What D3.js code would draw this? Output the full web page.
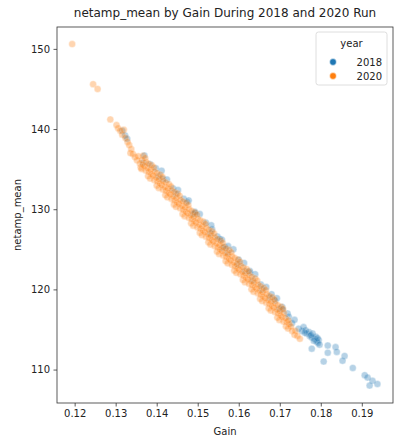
<!DOCTYPE html>
<html>
<head>
<meta charset="utf-8">
<script src="https://cdn.jsdelivr.net/npm/d3@7"></script>
<style>
  html, body { margin: 0; padding: 0; background: #fff; }
  svg { display: block; font-family: "DejaVu Sans", sans-serif; }
</style>
</head>
<body>
<svg id="chart" width="402" height="439"></svg>
<script>
// Run years shown in the legend
const years = ["2018", "2020"];

// [Gain, netamp_mean] for the 2018 run
const points2018 = [
  [0.1316,139.8],[0.1323,139.2],[0.1328,138.8],[0.1367,135.8],[0.1384,135.6],[0.1370,136.7],
  [0.1398,135.1],[0.1415,133.8],[0.1412,134.8],[0.1425,133.7],[0.1440,132.6],[0.1452,132.4],
  [0.1466,131.3],[0.1474,130.9],[0.1478,131.1],[0.1493,129.5],[0.1493,129.7],[0.1505,129.4],
  [0.1520,128.3],[0.1535,127.5],[0.1533,128.0],[0.1548,126.6],[0.1559,126.2],[0.1554,126.3],
  [0.1566,125.3],[0.1561,125.2],[0.1574,125.4],[0.1587,125.0],[0.1598,123.1],[0.1600,123.7],
  [0.1613,123.3],[0.1627,122.1],[0.1627,122.3],[0.1634,121.1],[0.1640,121.9],[0.1654,120.6],
  [0.1667,120.3],[0.1676,119.0],[0.1680,119.4],[0.1688,118.6],[0.1693,118.9],[0.1706,117.8],
  [0.1707,117.5],[0.1719,117.0],[0.1722,116.6],[0.1736,116.2],[0.1730,115.8],[0.1746,115.1],
  [0.1754,114.8],[0.1758,115.3],[0.1763,114.9],[0.1766,114.5],[0.1771,114.7],[0.1773,114.2],
  [0.1778,114.0],[0.1780,114.5],[0.1785,113.8],[0.1788,114.1],[0.1790,113.5],[0.1795,113.7],
  [0.1793,113.3],[0.1797,113.1],[0.1761,114.6],[0.1776,114.3],[0.1783,113.6],[0.1792,113.9],
  [0.1778,112.6],[0.1807,111.0],[0.1817,113.0],[0.1817,112.1],
  [0.1836,112.8],[0.1839,112.2],[0.1858,111.7],[0.1853,111.1],[0.1878,110.2],[0.1907,109.3],
  [0.1914,109.0],[0.1926,108.6],[0.1938,108.2],[0.1919,108.0],
  [0.1405,134.1],[0.1447,131.9],[0.1489,129.4],[0.1531,127.0],[0.1573,124.6],[0.1615,122.3],
  [0.1657,120.0],[0.1699,117.6]
];

// [Gain, netamp_mean] for the 2020 run
const points2020 = [
  [0.1194,150.6],[0.1245,145.6],[0.1256,145.0],[0.1287,141.2],[0.1302,140.5],[0.1306,140.1],
  [0.1311,139.8],[0.1316,139.3],[0.1320,139.9],[0.1324,138.9],[0.1329,138.4],[0.1333,138.0],
  [0.1338,137.5],[0.1336,137.0],[0.1342,136.9],[0.1347,136.5],[0.1352,136.1],[0.1355,136.6],
  [0.1359,135.7],[0.1361,135.2],
  [0.1363,135.01],[0.1366,135.56],[0.1364,136.11],[0.1367,136.66],
  [0.1373,134.82],[0.1370,135.37],[0.1374,135.87],[0.1372,136.37],
  [0.1379,134.13],[0.1381,134.63],[0.1378,135.13],[0.1380,135.68],
  [0.1384,133.83],[0.1387,134.38],[0.1385,134.93],[0.1388,135.48],
  [0.1394,133.64],[0.1391,134.19],[0.1395,134.69],[0.1393,135.19],
  [0.1400,132.95],[0.1402,133.45],[0.1399,133.95],[0.1401,134.50],
  [0.1405,132.66],[0.1408,133.21],[0.1406,133.76],[0.1409,134.31],
  [0.1415,132.46],[0.1412,133.01],[0.1416,133.51],[0.1414,134.01],
  [0.1421,131.77],[0.1423,132.27],[0.1420,132.77],[0.1422,133.32],
  [0.1426,131.48],[0.1429,132.03],[0.1427,132.58],[0.1430,133.13],
  [0.1436,131.29],[0.1433,131.84],[0.1437,132.34],[0.1435,132.84],
  [0.1442,130.60],[0.1444,131.10],[0.1441,131.60],[0.1443,132.15],
  [0.1447,130.30],[0.1450,130.85],[0.1448,131.40],[0.1451,131.95],
  [0.1457,130.11],[0.1454,130.66],[0.1458,131.16],[0.1456,131.66],
  [0.1463,129.42],[0.1465,129.92],[0.1462,130.42],[0.1464,130.97],
  [0.1468,129.13],[0.1471,129.68],[0.1469,130.23],[0.1472,130.78],
  [0.1478,128.94],[0.1475,129.49],[0.1479,129.99],[0.1477,130.49],
  [0.1484,128.24],[0.1486,128.74],[0.1483,129.24],[0.1485,129.79],
  [0.1489,127.95],[0.1492,128.50],[0.1490,129.05],[0.1493,129.60],
  [0.1499,127.76],[0.1496,128.31],[0.1500,128.81],[0.1498,129.31],
  [0.1505,127.07],[0.1507,127.57],[0.1504,128.07],[0.1506,128.62],
  [0.1510,126.78],[0.1513,127.33],[0.1511,127.88],[0.1514,128.43],
  [0.1520,126.58],[0.1517,127.13],[0.1521,127.63],[0.1519,128.13],
  [0.1526,125.89],[0.1528,126.39],[0.1525,126.89],[0.1527,127.44],
  [0.1531,125.60],[0.1534,126.15],[0.1532,126.70],[0.1535,127.25],
  [0.1541,125.41],[0.1538,125.96],[0.1542,126.46],[0.1540,126.96],
  [0.1547,124.72],[0.1549,125.22],[0.1546,125.72],[0.1548,126.27],
  [0.1552,124.42],[0.1555,124.97],[0.1553,125.52],[0.1556,126.07],
  [0.1562,124.23],[0.1559,124.78],[0.1563,125.28],[0.1561,125.78],
  [0.1568,123.54],[0.1570,124.04],[0.1567,124.54],[0.1569,125.09],
  [0.1573,123.25],[0.1576,123.80],[0.1574,124.35],[0.1577,124.90],
  [0.1583,123.06],[0.1580,123.61],[0.1584,124.11],[0.1582,124.61],
  [0.1589,122.36],[0.1591,122.86],[0.1588,123.36],[0.1590,123.91],
  [0.1594,122.07],[0.1597,122.62],[0.1595,123.17],[0.1598,123.72],
  [0.1604,121.88],[0.1601,122.43],[0.1605,122.93],[0.1603,123.43],
  [0.1610,121.19],[0.1612,121.69],[0.1609,122.19],[0.1611,122.74],
  [0.1615,120.90],[0.1618,121.45],[0.1616,122.00],[0.1619,122.55],
  [0.1625,120.70],[0.1622,121.25],[0.1626,121.75],[0.1624,122.25],
  [0.1631,120.01],[0.1633,120.51],[0.1630,121.01],[0.1632,121.56],
  [0.1636,119.72],[0.1639,120.27],[0.1637,120.82],[0.1640,121.37],
  [0.1646,119.53],[0.1643,120.08],[0.1647,120.58],[0.1645,121.08],
  [0.1652,118.84],[0.1654,119.34],[0.1651,119.84],[0.1653,120.39],
  [0.1657,118.54],[0.1660,119.09],[0.1658,119.64],[0.1661,120.19],
  [0.1667,118.35],[0.1664,118.90],[0.1668,119.40],[0.1666,119.90],
  [0.1673,117.66],[0.1675,118.16],[0.1672,118.66],[0.1674,119.21],
  [0.1678,117.37],[0.1681,117.92],[0.1679,118.47],[0.1682,119.02],
  [0.1688,117.18],[0.1685,117.73],[0.1689,118.23],[0.1687,118.73],
  [0.1694,116.48],[0.1696,116.98],[0.1693,117.48],[0.1695,118.03],
  [0.1699,116.19],[0.1702,116.74],[0.1700,117.29],[0.1703,117.84],
  [0.1709,116.00],[0.1706,116.55],[0.1710,117.05],[0.1708,117.55],
  [0.1715,115.41],[0.1717,115.91],[0.1714,116.41],
  [0.1720,115.12],[0.1723,115.67],[0.1721,116.12],
  [0.1730,114.82],[0.1727,115.37],
  [0.1736,114.33],[0.1738,114.83],
  [0.1743,114.20],[0.1749,113.84]
];

// Axis ticks
const xTicks = [0.12, 0.13, 0.14, 0.15, 0.16, 0.17, 0.18, 0.19];
const yTicks = [110, 120, 130, 140, 150];

const colors = { "2018": "#1f77b4", "2020": "#ff7f0e" };
const plot = { left: 57, right: 393, top: 27, bottom: 403 };

const svg = d3.select("#chart");

const x = d3.scaleLinear().domain([0.1157, 0.1976]).range([plot.left, plot.right]);
const y = d3.scaleLinear().domain([105.83, 152.73]).range([plot.bottom, plot.top]);

// Scatter points: 2018 first, 2020 drawn over it
const series = [
  { year: "2018", pts: points2018 },
  { year: "2020", pts: points2020 }
];
const gPts = svg.append("g");
series.forEach(s => {
  gPts.append("g")
    .selectAll("circle")
    .data(s.pts)
    .join("circle")
    .attr("cx", d => x(d[0]))
    .attr("cy", d => y(d[1]))
    .attr("r", 3.5)
    .attr("fill", colors[s.year])
    .attr("stroke", "#fff")
    .attr("stroke-width", 0.4)
    .attr("opacity", 0.32);
});

// Axes
const xAxis = svg.append("g")
  .attr("transform", `translate(0,${plot.bottom})`)
  .call(d3.axisBottom(x).tickValues(xTicks).tickSize(3.5).tickPadding(3.5)
    .tickFormat(d3.format(".2f")));
const yAxis = svg.append("g")
  .attr("transform", `translate(${plot.left},0)`)
  .call(d3.axisLeft(y).tickValues(yTicks).tickSize(3.5).tickPadding(3.5)
    .tickFormat(d3.format("d")));
[xAxis, yAxis].forEach(a => {
  a.select(".domain").remove();
  a.selectAll(".tick line").attr("stroke", "#333").attr("stroke-width", 0.8);
  a.selectAll(".tick text").attr("fill", "#222").style("font-size", "10px")
    .style("font-family", "DejaVu Sans, sans-serif");
});

// Frame
svg.append("rect")
  .attr("x", plot.left).attr("y", plot.top)
  .attr("width", plot.right - plot.left).attr("height", plot.bottom - plot.top)
  .attr("fill", "none").attr("stroke", "#333").attr("stroke-width", 0.8);

// Title and axis labels
svg.append("text")
  .attr("x", (plot.left + plot.right) / 2).attr("y", 17)
  .attr("text-anchor", "middle").attr("fill", "#222")
  .style("font-size", "12px")
  .text("netamp_mean by Gain During 2018 and 2020 Run");

svg.append("text")
  .attr("x", (plot.left + plot.right) / 2).attr("y", 435)
  .attr("text-anchor", "middle").attr("fill", "#222")
  .style("font-size", "10px")
  .text("Gain");

svg.append("text")
  .attr("transform", `translate(21,${(plot.top + plot.bottom) / 2}) rotate(-90)`)
  .attr("text-anchor", "middle").attr("fill", "#222")
  .style("font-size", "10px")
  .text("netamp_mean");

// Legend
const leg = svg.append("g");
leg.append("rect")
  .attr("x", 316).attr("y", 32).attr("width", 71).attr("height", 53)
  .attr("rx", 2.5).attr("fill", "#fff").attr("fill-opacity", 0.8)
  .attr("stroke", "#d6d6d6").attr("stroke-width", 0.8);
leg.append("text")
  .attr("x", 351.5).attr("y", 47).attr("text-anchor", "middle")
  .attr("fill", "#222").style("font-size", "10px").text("year");
years.forEach((yr, i) => {
  const cy = 62 + i * 14;
  leg.append("circle").attr("cx", 333).attr("cy", cy).attr("r", 3.4)
    .attr("fill", colors[yr]).attr("stroke", "#fff").attr("stroke-width", 0.6);
  leg.append("text").attr("x", 382).attr("y", cy + 3.5).attr("text-anchor", "end")
    .attr("fill", "#222").style("font-size", "10px").text(yr);
});
</script>
</body>
</html>
